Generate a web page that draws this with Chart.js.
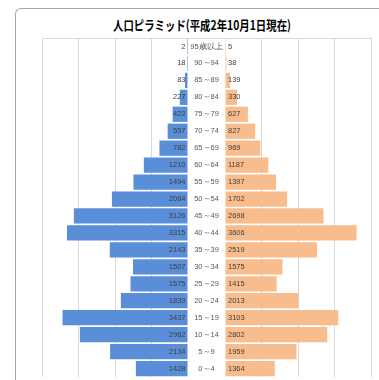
<!DOCTYPE html>
<html>
<head>
<meta charset="utf-8">
<script src="https://cdn.jsdelivr.net/npm/chart.js@4/dist/chart.umd.min.js"></script>
<style>
  body { margin: 0; background: #fff; width: 379px; height: 380px; overflow: hidden; position: relative; }
  #frame { position: absolute; left: 15px; top: 8px; width: 400px; height: 400px;
           border-left: 1px solid #a6a6a6; border-top: 1px solid #a6a6a6; border-top-left-radius: 6px; }
  #title { position: absolute; left: 42px; width: 320px; top: 15px; text-align: center;
           font: bold 13px "Noto Sans CJK JP", sans-serif; color: #000;
           transform: scaleX(0.8); transform-origin: 160px 0; }
  #topline { position: absolute; left: 42px; top: 38px; width: 329px; height: 0; border-top: 1px solid #d9d9d9; }
  #male { position: absolute; left: 32px; top: 30px; }
  #female { position: absolute; left: 225px; top: 30px; }
</style>
</head>
<body>
<div id="frame"></div>
<div id="title">人口ピラミッド(平成2年10月1日現在)</div>
<div id="topline"></div>
<canvas id="male" width="193" height="350"></canvas>
<canvas id="female" width="156" height="350"></canvas>
<script>
var ageGroups = ['95歳以上', '90～94', '85～89', '80～84', '75～79', '70～74', '65～69', '60～64',
  '55～59', '50～54', '45～49', '40～44', '35～39', '30～34', '25～29', '20～24',
  '15～19', '10～14', '5～9', '0～4']
var maleCounts = [2, 18, 83, 227, 422, 557, 782, 1210, 1494, 2084, 3126, 3315, 2143, 1507, 1575, 1839, 3437, 2962, 2134, 1428]
var femaleCounts = [5, 38, 139, 330, 627, 827, 969, 1187, 1397, 1702, 2698, 3606, 2519, 1575, 1415, 2013, 3103, 2802, 1959, 1364]
var axisMax = 4000
var axisStep = 1000

var numFont = '7.5px "Liberation Sans Narrow", "Liberation Sans", sans-serif'

// value labels next to the zero line, plus the age labels in the middle gap
var labelPlugin = {
  id: 'pyramidLabels',
  afterDatasetsDraw: function (chart, args, opts) {
    var ctx = chart.ctx
    var y = chart.scales.y
    var area = chart.chartArea
    var values = chart.data.datasets[0].data
    ctx.save()
    ctx.textBaseline = 'middle'
    for (var i = 0; i < values.length; i++) {
      var py = y.getPixelForValue(i)
      ctx.font = numFont
      ctx.fillStyle = '#404040'
      if (opts.side === 'male') {
        ctx.textAlign = 'right'
        ctx.fillText(values[i], area.right - 2.5, py)
        ctx.fillStyle = '#595959'
        ctx.textAlign = 'center'
        ctx.fillText(chart.data.labels[i], area.right + 18.5, py)
      } else {
        ctx.textAlign = 'left'
        ctx.fillText(values[i], area.left + 3, py)
      }
    }
    ctx.restore()
  }
}

function makeChart(id, values, color, side) {
  var ctx = document.getElementById(id).getContext('2d')
  return new Chart(ctx, {
    type: 'bar',
    data: {
      labels: ageGroups,
      datasets: [{
        data: values,
        backgroundColor: color,
        borderWidth: 0,
        minBarLength: 1,
        barPercentage: 0.9,
        categoryPercentage: 1.0
      }]
    },
    options: {
      indexAxis: 'y',
      responsive: false,
      animation: false,
      layout: {
        padding: side === 'male'
          ? { left: 10, right: 37, top: 8, bottom: 3 }
          : { left: 0, right: 10, top: 8, bottom: 3 }
      },
      scales: {
        x: {
          reverse: side === 'male',
          min: 0,
          max: axisMax,
          ticks: { display: false, stepSize: axisStep },
          border: { display: false },
          grid: {
            drawTicks: false,
            lineWidth: 1,
            color: function (c) { return c.tick && c.tick.value === 0 ? 'rgba(0,0,0,0)' : '#d9d9d9' }
          }
        },
        y: { display: false }
      },
      plugins: {
        legend: { display: false },
        tooltip: { enabled: false },
        pyramidLabels: { side: side }
      }
    },
    plugins: [labelPlugin]
  })
}

makeChart('male', maleCounts, '#5a8ed8', 'male')
makeChart('female', femaleCounts, '#f9bd8d', 'female')
</script>
</body>
</html>
